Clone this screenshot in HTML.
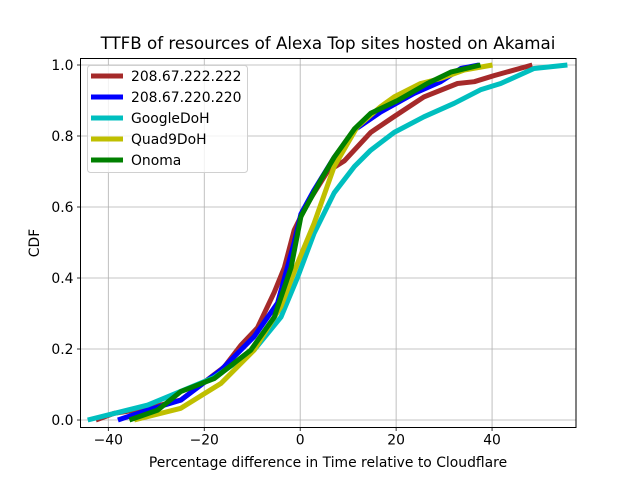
<!DOCTYPE html>
<html><head><meta charset="utf-8"><style>
body{margin:0;background:#fff;}
svg text{font-family:"DejaVu Sans","Liberation Sans",sans-serif;fill:#000;}
</style></head><body>
<svg id="chart" width="640" height="480" xmlns="http://www.w3.org/2000/svg">
<rect width="640" height="480" fill="#fff"/>
<g id="grid"></g>
<g id="series"></g>
<rect x="80.5" y="58.5" width="495.5" height="369" fill="none" stroke="#000" stroke-width="1"/>
<g id="ticks"></g>
<text x="328" y="49" font-size="16.7" text-anchor="middle">TTFB of resources of Alexa Top sites hosted on Akamai</text>
<text x="328" y="467" font-size="13.9" text-anchor="middle">Percentage difference in Time relative to Cloudflare</text>
<text transform="translate(39,243) rotate(-90)" font-size="13.9" text-anchor="middle">CDF</text>
<g id="legend"></g>
</svg>
<script>
const seriesNames = ["208.67.222.222","208.67.220.220","GoogleDoH","Quad9DoH","Onoma"];
const seriesColors = ["#a52a2a","#0000ff","#00bfbf","#bfbf00","#008000"];
const brownX = [-42.6,-38.8,-31.8,-24.9,-15.8,-12.4,-8.9,-5.4,-3.3,-1.25,1.5,5.7,9.2,14.7,19.6,25.8,32.8,36.3,40.4,48.4];
const brownY = [0,0.019,0.033,0.056,0.15,0.21,0.26,0.36,0.43,0.535,0.61,0.70,0.73,0.81,0.855,0.91,0.948,0.953,0.97,1.0];
const blueX = [-38,-31.8,-24.9,-16.5,-9.6,-4.7,-1.25,0.14,2.9,7.1,11.3,16.8,23.75,29.3,33.5,37.3];
const blueY = [0,0.028,0.056,0.141,0.235,0.33,0.50,0.58,0.648,0.74,0.817,0.868,0.92,0.953,0.99,1.0];
const cyanX = [-44.3,-31.8,-17.9,-9.6,-4,-0.6,2.9,7.1,11.3,14.7,19.6,25.8,32.1,37.6,41.8,48.75,55.7];
const cyanY = [0,0.042,0.12,0.197,0.29,0.40,0.526,0.64,0.714,0.76,0.81,0.854,0.892,0.93,0.948,0.99,1.0];
const yellowX = [-34.6,-24.9,-16.5,-9.6,-4,-0.6,2.9,7.1,11.9,16.8,19.6,25.1,29.3,34.2,40.1];
const yellowY = [0,0.033,0.103,0.197,0.32,0.44,0.554,0.714,0.826,0.883,0.91,0.948,0.962,0.986,1.0];
const greenX = [-35.6,-29.7,-24.9,-17.9,-10.3,-5.4,-1.9,0.14,4.3,7.1,11.3,14.7,20.3,26.5,31.4,37.6];
const greenY = [0,0.028,0.08,0.117,0.197,0.29,0.43,0.573,0.676,0.74,0.82,0.864,0.9,0.948,0.98,1.0];
const xTicks = [-40,-20,0,20,40];
const yTicks = [0.0,0.2,0.4,0.6,0.8,1.0];
const xTickLabels = ["−40","−20","0","20","40"];
const yTickLabels = ["0.0","0.2","0.4","0.6","0.8","1.0"];

const NS="http://www.w3.org/2000/svg";
const X0=80.5,X1=576,Y0=58.5,Y1=427.5;
const xMin=-45.8,xMax=57.5,yMin=-0.0211,yMax=1.0183;
function sx(v){return X0+(v-xMin)/(xMax-xMin)*(X1-X0);}
function sy(v){return Y1-(v-yMin)/(yMax-yMin)*(Y1-Y0);}
function mk(t,a,p){const e=document.createElementNS(NS,t);for(const k in a)e.setAttribute(k,a[k]);p.appendChild(e);return e;}
const grid=document.getElementById('grid'),ticks=document.getElementById('ticks');
xTicks.forEach((v,i)=>{
  const x=sx(v);
  const g=mk('line',{x1:x,x2:x,y1:Y0,y2:Y1,stroke:'#b0b0b0','stroke-width':0.8},grid);
  
  
  mk('line',{x1:x,x2:x,y1:Y1,y2:Y1+3.5,stroke:'#000','stroke-width':0.8},ticks);
  const t=mk('text',{x:x,y:Y1+17,'font-size':13.9,'text-anchor':'middle'},ticks);
  t.textContent=xTickLabels[i];
  
  
});
yTicks.forEach((v,i)=>{
  const y=sy(v);
  const g=mk('line',{x1:X0,x2:X1,y1:y,y2:y,stroke:'#b0b0b0','stroke-width':0.8},grid);
  
  
  mk('line',{x1:X0-3.5,x2:X0,y1:y,y2:y,stroke:'#000','stroke-width':0.8},ticks);
  const t=mk('text',{x:X0-7,y:y+5,'font-size':13.9,'text-anchor':'end'},ticks);
  t.textContent=yTickLabels[i];
  
  
});
const allX=[brownX,blueX,cyanX,yellowX,greenX],allY=[brownY,blueY,cyanY,yellowY,greenY];
const ser=document.getElementById('series');
allX.forEach((xs,k)=>{
  const pts=xs.map((v,i)=>sx(v).toFixed(1)+','+sy(allY[k][i]).toFixed(1)).join(' ');
  const p=mk('polyline',{points:pts,fill:'none',stroke:seriesColors[k],'stroke-width':5,'stroke-linejoin':'round'},ser);
  
  
});
const lg=document.getElementById('legend');
const box=mk('rect',{x:87.5,y:65.5,width:160,height:107,rx:3,fill:'#fff','fill-opacity':0.8,stroke:'#d0d0d0'},lg);


seriesNames.forEach((n,i)=>{
  const y=76+i*21;
  const l=mk('line',{x1:91,x2:123,y1:y,y2:y,stroke:seriesColors[i],'stroke-width':5},lg);
  
  
  const t=mk('text',{x:131,y:y+5,'font-size':13.9},lg);
  t.textContent=n;
  
  
});
</script>
</body></html>
